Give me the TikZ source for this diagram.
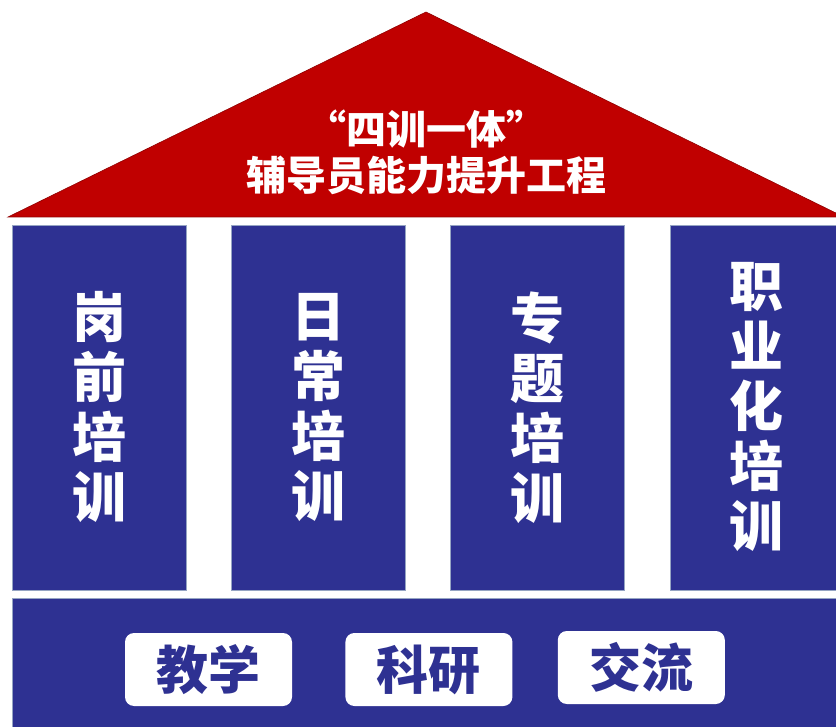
\documentclass[tikz,border=0pt]{standalone}
\usepackage{fontspec}
\newfontfamily\cjk{Noto Sans CJK SC}
\usepackage{tikz}
\usetikzlibrary{positioning}
\definecolor{roofred}{RGB}{192,0,0}
\definecolor{pillarblue}{RGB}{46,49,146}
\definecolor{edgegray}{RGB}{150,165,195}

\begin{document}
\begin{tikzpicture}[x=1pt,y=-1pt,node distance=44.5pt]
  \tikzstyle{pillar}=[rectangle,fill=pillarblue,draw=edgegray,line width=0.8pt,
  			minimum width=174pt,minimum height=365pt,inner sep=0pt,
  			align=center,text=white,font=\cjk\bfseries\fontsize{54}{60}\selectfont]
  \tikzstyle{base}=[rectangle,fill=pillarblue,draw=edgegray,line width=0.8pt,
  			minimum width=833pt,minimum height=140pt,inner sep=0pt]
  \tikzstyle{tag}=[rectangle,rounded corners=9pt,fill=white,minimum width=167pt,
  			minimum height=73pt,inner sep=0pt,text=pillarblue,
  			font=\cjk\bfseries\fontsize{52}{56}\selectfont]
  \useasboundingbox (0,0) rectangle (836,727);
  \clip (0,0) rectangle (836,727);
  % roof
  \draw[fill=roofred,draw=roofred!75!black,line width=0.6pt]
    (8,217) -- (426,12) -- (844,217) -- cycle;
  \node [text=white,align=center,inner sep=0pt,
    font=\cjk\bfseries\fontsize{40}{46}\selectfont] (title) at (426,152)
    {“四训一体”\\辅导员能力提升工程};
  % pillars
  \node [pillar] (gangqian) at (99,407.5) {岗\\前\\培\\训};
  \node [pillar] (richang) [right=of gangqian] {日\\常\\培\\训};
  \node [pillar] (zhuanti) [right=of richang] {专\\题\\培\\训};
  \node [pillar] (zhiye) [right=of zhuanti] {职\\业\\化\\培\\训};
  % base
  \node [base,anchor=north west] (jichu) at ([yshift=-8pt]gangqian.south west) {};
  \node [tag] (jiaoxue) at (208.5,669.5) {教学};
  \node [tag] (keyan) [right=53pt of jiaoxue] {科研};
  \node [tag] (jiaoliu) [right=45pt of keyan,yshift=2pt] {交流};
\end{tikzpicture}
\end{document}
